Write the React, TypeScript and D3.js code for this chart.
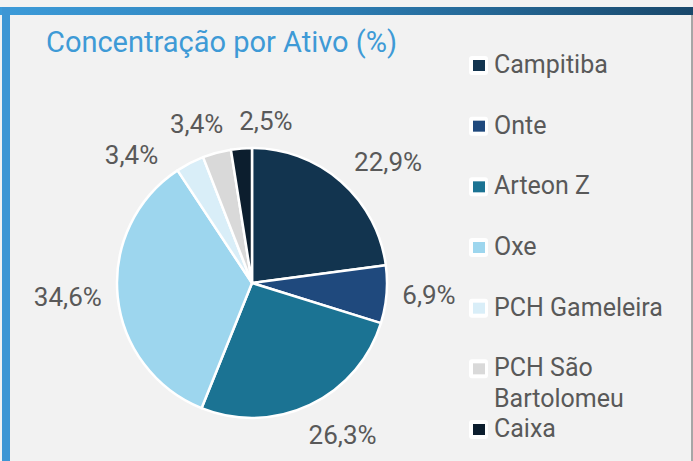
import * as d3 from 'd3';
import React from 'react';

// chart data
const categories = ['Campitiba', 'Onte', 'Arteon Z', 'Oxe', 'PCH Gameleira', 'PCH São Bartolomeu', 'Caixa'];
const values = [22.9, 6.9, 26.3, 34.6, 3.4, 3.4, 2.5];
const colors = ['#12344f', '#1f497d', '#1b7393', '#9dd6ee', '#d9eef8', '#d9d9d9', '#0c1e2e'];
const title = 'Concentração por Ativo (%)';

const width = 693;
const height = 461;
const cx = 252;
const cy = 283;
const radius = 135;
const font = 'Roboto, "Noto Sans", sans-serif';
const textColor = '#595959';

const labelSize = 26;
const legendSize = 25;

let ctx: any = null;
function measure(text: string, size: number) {
  if (!ctx) ctx = document.createElement('canvas').getContext('2d');
  ctx.font = size + 'px Roboto';
  return ctx.measureText(text).width;
}

function wrap(text: string, size: number, maxW: number) {
  const words = text.split(' ');
  const lines: string[] = [];
  let cur = '';
  words.forEach((w) => {
    const t = cur ? cur + ' ' + w : w;
    if (cur && measure(t, size) > maxW) {
      lines.push(cur);
      cur = w;
    } else cur = t;
  });
  lines.push(cur);
  return lines;
}

const fmt = (v: number) => d3.format('.1f')(v).replace('.', ',') + '%';

export default function App() {
  const pie = d3.pie<number>().sort(null).value((d) => d);
  const arcs = pie(values);
  const arc = d3.arc<d3.PieArcDatum<number>>().innerRadius(0).outerRadius(radius);

  // label angles: pull toward horizontal, then spread apart small slices
  const deg = 180 / Math.PI;
  const angles = arcs.map((a) => {
    const mid = ((a.startAngle + a.endAngle) / 2) * deg;
    return mid + 7 * Math.sin((2 * mid) / deg);
  });
  const minGap = 24;
  for (let it = 0; it < 100; it++) {
    for (let i = 0; i < angles.length; i++) {
      const j = (i + 1) % angles.length;
      let gap = angles[j] - angles[i];
      if (j === 0) gap += 360;
      if (gap < minGap) {
        const push = (minGap - gap) / 2;
        angles[i] -= push;
        angles[j] += push;
      }
    }
  }

  const labels = arcs.map((a, i) => {
    const text = fmt(values[i]);
    const hw = measure(text, labelSize) / 2;
    const hh = 11;
    const phi = angles[i] / deg;
    const R = radius + 15 + hw * Math.abs(Math.sin(phi)) + hh * Math.abs(Math.cos(phi));
    return { text, x: cx + R * Math.sin(phi), y: cy - R * Math.cos(phi) };
  });

  const legendX = 469;
  const legendY = d3
    .scalePoint<string>()
    .domain(categories)
    .range([73, 437]);

  return (
    <svg
      width={width}
      height={height}
      style={{ position: 'absolute', left: 0, top: 0, fontFamily: font }}
    >
      <defs>
        <linearGradient id="band" x1="0" x2="1" y1="0" y2="0">
          <stop offset="0%" stopColor="#3c9bd9" />
          <stop offset="50%" stopColor="#2c7cb2" />
          <stop offset="100%" stopColor="#19486b" />
        </linearGradient>
      </defs>
      <rect width={width} height={height} fill="#f2f2f2" />
      <rect x={0} y={7} width={width} height={8} fill="url(#band)" />
      <rect x={2} y={7} width={8} height={height - 7} fill="#3d96d4" />
      <rect x={691} y={15} width={2} height={height - 15} fill="#a6a6a6" />

      <text x={46} y={52} fontSize={29} fill="#3e9ad6">
        {title}
      </text>

      <g transform={`translate(${cx},${cy})`}>
        {arcs.map((a, i) => (
          <path key={i} d={arc(a) || ''} fill={colors[i]} stroke="#ffffff" strokeWidth={2.5} strokeLinejoin="round" />
        ))}
      </g>

      {labels.map((l, i) => (
        <text key={i} x={l.x} y={l.y} dy="0.36em" textAnchor="middle" fontSize={labelSize} fill={textColor}>
          {l.text}
        </text>
      ))}

      {categories.map((c, i) => {
        const y = legendY(c) as number;
        const lines = wrap(c, legendSize, 185);
        return (
          <g key={c}>
            <rect x={legendX} y={y - 17} width={19} height={19} rx={3} fill="#ffffff" />
            <rect x={legendX + 4} y={y - 13} width={12} height={11} fill={colors[i]} />
            <text x={494} y={y} fontSize={legendSize} fill={textColor}>
              {lines.map((ln, k) => (
                <tspan key={k} x={494} dy={k === 0 ? 0 : 31}>
                  {ln}
                </tspan>
              ))}
            </text>
          </g>
        );
      })}
    </svg>
  );
}
